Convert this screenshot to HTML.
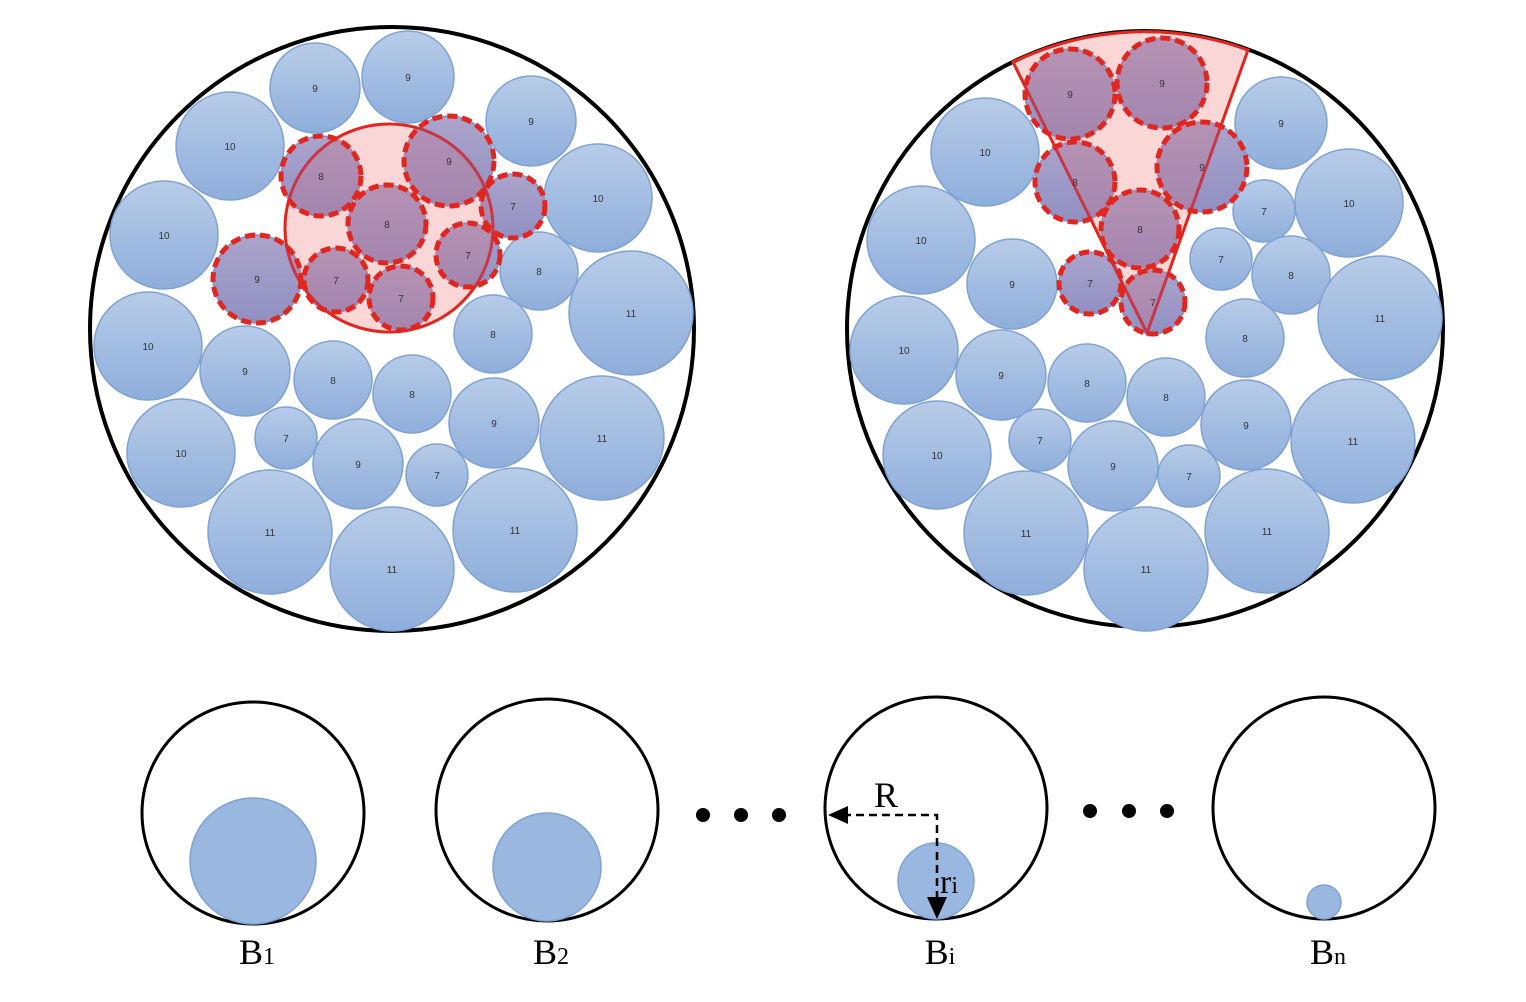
<!DOCTYPE html>
<html><head><meta charset="utf-8">
<style>
html,body{margin:0;padding:0;background:#fff;}
svg{display:block;}
text{font-family:"Liberation Sans",sans-serif;}
.serif{font-family:"Liberation Serif",serif;}
</style></head>
<body>
<svg id="fig" width="1526" height="1002" viewBox="0 0 1526 1002" xmlns="http://www.w3.org/2000/svg">
<defs>
<linearGradient id="blue" x1="0" y1="0" x2="0" y2="1">
<stop offset="0" stop-color="#b8cce8"/><stop offset="1" stop-color="#8eaedb"/>
</linearGradient>
</defs>
<g id="left"></g>
<g id="right"></g>
<g id="bottom"></g>
</svg>
<script>
const NS="http://www.w3.org/2000/svg";
// [cx, cy, r, label, highlighted]
const leftCircles=[
[315,88,45,"9",0],[408,77,46,"9",0],[230,146,54,"10",0],[531,121,45,"9",0],
[164,235,54,"10",0],[598,198,54,"10",0],[321,176,40,"8",1],[449,161,45,"9",1],
[387,224,39,"8",1],[513,206,32,"7",1],[468,255,32,"7",1],[539,271,39,"8",0],
[257,279,44,"9",1],[336,280,32,"7",1],[401,298,32,"7",1],[631,313,62,"11",0],
[148,346,54,"10",0],[493,334,39,"8",0],[245,371,45,"9",0],[333,380,39,"8",0],
[412,394,39,"8",0],[494,423,45,"9",0],[181,453,54,"10",0],[286,438,31,"7",0],
[358,464,45,"9",0],[437,475,31,"7",0],[602,438,62,"11",0],[270,532,62,"11",0],
[392,569,62,"11",0],[515,530,62,"11",0]];
const rightCircles=[
[1070,94,45,"9",1],[1162,83,45,"9",1],[985,152,54,"10",0],[1281,123,46,"9",0],
[1075,182,40,"8",1],[1202,167,45,"9",1],[921,240,54,"10",0],[1264,211,31,"7",0],
[1349,203,54,"10",0],[1140,229,39,"8",1],[1221,259,31,"7",0],[1012,284,45,"9",0],
[1090,283,31,"7",1],[1153,302,32,"7",1],[1291,275,39,"8",0],[1380,318,62,"11",0],
[904,350,54,"10",0],[1245,338,39,"8",0],[1001,375,45,"9",0],[1087,383,39,"8",0],
[1166,397,39,"8",0],[1246,425,45,"9",0],[1040,440,31,"7",0],[937,455,54,"10",0],
[1113,466,45,"9",0],[1189,476,31,"7",0],[1353,441,62,"11",0],[1026,533,62,"11",0],
[1146,569,62,"11",0],[1267,531,62,"11",0]];
const bins=[["B","1",253,813,63],["B","2",547,810,54],["B","i",936,808,38],["B","n",1324,808,17]];

function mk(tag,attrs,parent){const e=document.createElementNS(NS,tag);for(const k in attrs)e.setAttribute(k,attrs[k]);parent.appendChild(e);return e;}

function drawPack(g,cx,cy,R,list,overlay){
  const outer=mk("circle",{cx:cx,cy:cy,r:R,fill:"#fff",stroke:"#000","stroke-width":4},g);
  
  
  list.forEach(c=>{
    const e=mk("circle",{cx:c[0],cy:c[1],r:c[2],fill:"url(#blue)",stroke:"#7fa2d4","stroke-width":1.5},g);
    
    
  });
  overlay(g);
  list.forEach(c=>{
    if(c[4]){
      const e=mk("circle",{cx:c[0],cy:c[1],r:c[2],fill:"rgba(150,90,150,0.35)",stroke:"#e0261e","stroke-width":5,"stroke-dasharray":"10 5"},g);
      
      
    }
  });
  list.forEach(c=>{
    const t=mk("text",{x:c[0],y:c[1]+4,"text-anchor":"middle","font-size":10,fill:"#333"},g);
    t.textContent=c[3];
    
    
  });
}

drawPack(document.getElementById("left"),392,329,302,leftCircles,g=>{
  const e=mk("circle",{cx:389,cy:228,r:104,fill:"rgba(240,120,120,0.3)",stroke:"#e0261e","stroke-width":3},g);
  
  
});
drawPack(document.getElementById("right"),1145,329,298,rightCircles,g=>{
  const e=mk("path",{d:"M1147 333 L1013 62 A301 301 0 0 1 1248 50 Z",fill:"rgba(240,120,120,0.3)",stroke:"#e0261e","stroke-width":3},g);
  
  
});

const bg=document.getElementById("bottom");
bins.forEach(b=>{
  const cx=b[2],cy=b[3],r=b[4];
  const o=mk("circle",{cx:cx,cy:cy,r:111,fill:"none",stroke:"#000","stroke-width":3},bg);
  
  
  const i=mk("circle",{cx:cx,cy:cy+111-r,r:r,fill:"#9ab7e0",stroke:"#7fa2d4","stroke-width":1.5},bg);
  
  
  const t=mk("text",{x:cx+4,y:964,"text-anchor":"middle","font-size":36,"class":"serif",fill:"#000"},bg);
  t.innerHTML=b[0]+'<tspan font-size="24">'+b[1]+'</tspan>';
  
  
});
[[703,815],[741,815],[779,815],[1090,811],[1129,811],[1167,811]].forEach(p=>{
  const d=mk("circle",{cx:p[0],cy:p[1],r:7,fill:"#000"},bg);
  
  
});
const h=mk("path",{d:"M937 846 L937 815 L845 815",fill:"none",stroke:"#000","stroke-width":2.5,"stroke-dasharray":"8 5"},bg);


const a1=mk("path",{d:"M828 815 L848 806 L848 824 Z",fill:"#000"},bg);


const v=mk("path",{d:"M937 852 L937 900",fill:"none",stroke:"#000","stroke-width":2.5,"stroke-dasharray":"8 5"},bg);


const a2=mk("path",{d:"M927 897 L947 897 L937 919 Z",fill:"#000"},bg);


const tR=mk("text",{x:874,y:807,"font-size":36,"class":"serif",fill:"#000"},bg);
tR.textContent="R";


const tr=mk("text",{x:940,y:893,"font-size":34,"class":"serif",fill:"#000"},bg);
tr.innerHTML='r<tspan font-size="24">i</tspan>';


</script>
</body></html>
